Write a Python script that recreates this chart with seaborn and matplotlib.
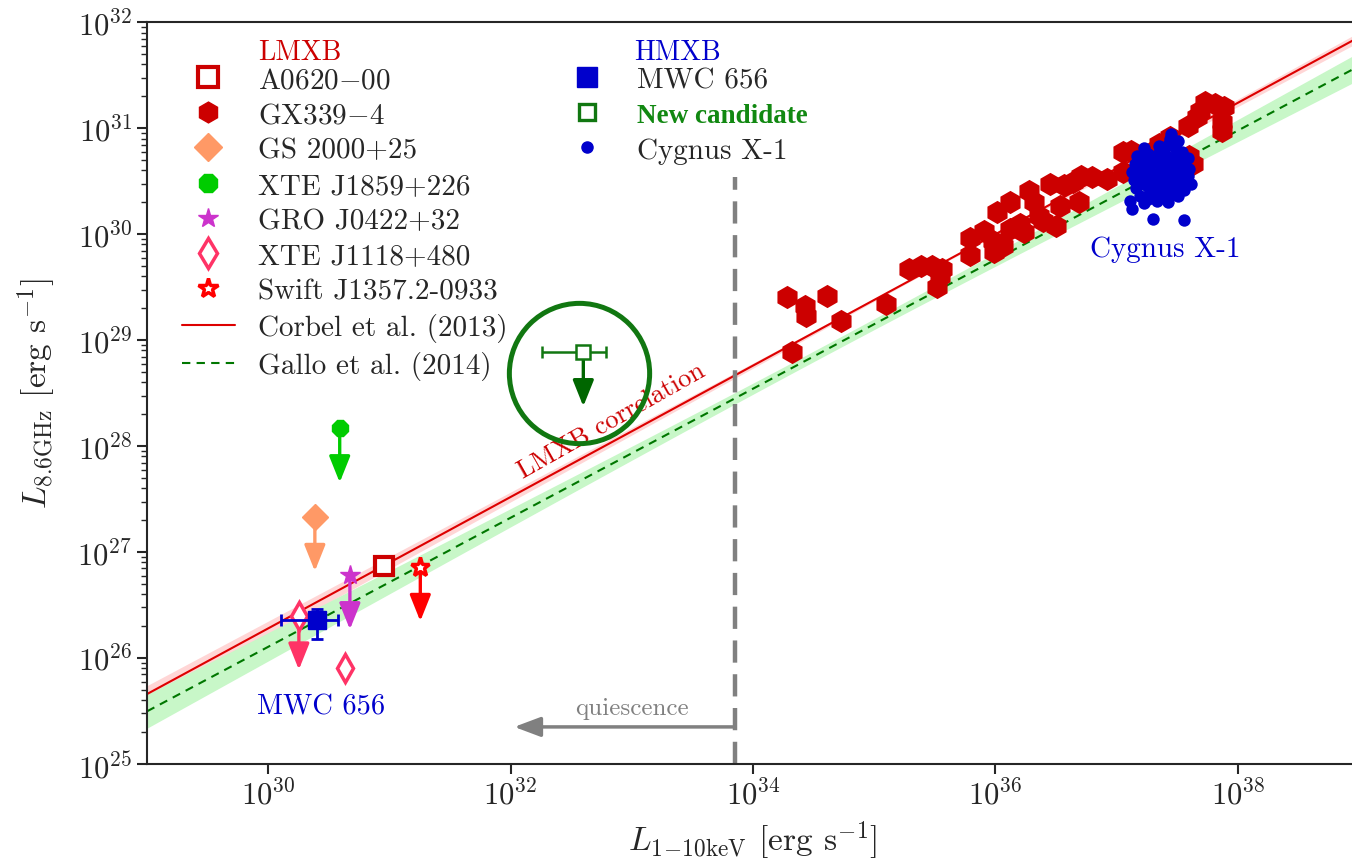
import numpy as np
import matplotlib
matplotlib.use("Agg")
import matplotlib.pyplot as plt
import seaborn as sns
import pandas as pd
from matplotlib.lines import Line2D
from matplotlib import ticker

# ---------------- data (log10 luminosities, erg/s) ----------------
gx339_logLx = [34.28, 34.43, 34.44, 34.61, 34.73, 34.32, 35.10, 35.29, 35.39, 35.48,
               35.54, 35.52, 35.56, 35.79, 35.79, 35.91, 35.98, 35.99, 36.06, 36.01,
               36.12, 36.12, 36.20, 36.24, 36.28, 36.32, 36.36, 36.39, 36.45, 36.50,
               36.53, 36.57, 36.64, 36.69, 36.71, 36.80, 36.92, 37.05, 37.12, 37.05,
               37.24, 37.35, 37.33, 37.44, 37.60, 37.63, 37.59, 37.66, 37.73, 37.81,
               37.89, 37.69, 37.87, 37.87]
gx339_logLr = [29.41, 29.32, 29.23, 29.42, 29.18, 28.89, 29.34, 29.67, 29.70, 29.70,
               29.61, 29.50, 29.67, 29.96, 29.80, 30.03, 29.94, 29.83, 29.89, 30.21,
               30.30, 30.05, 30.10, 30.02, 30.41, 30.30, 30.17, 30.12, 30.47, 30.08,
               30.27, 30.46, 30.49, 30.30, 30.55, 30.54, 30.52, 30.78, 30.79, 30.59,
               30.71, 30.85, 30.80, 30.92, 30.74, 30.66, 31.02, 31.11, 31.25, 31.23,
               31.20, 31.16, 31.06, 30.97]

cyg_logLx = [37.44, 37.51, 37.23, 37.35, 37.42, 37.49, 37.54, 37.17, 37.26, 37.33,
             37.40, 37.47, 37.53, 37.59, 37.15, 37.22, 37.29, 37.36, 37.42, 37.48,
             37.55, 37.60, 37.13, 37.21, 37.27, 37.34, 37.41, 37.47, 37.53, 37.59,
             37.14, 37.20, 37.28, 37.35, 37.40, 37.46, 37.54, 37.61, 37.16, 37.24,
             37.30, 37.37, 37.43, 37.50, 37.56, 37.19, 37.27, 37.34, 37.43, 37.51,
             37.23, 37.33, 37.42, 37.13, 37.30, 37.56, 37.11, 37.45, 37.38, 37.26]
cyg_logLr = [30.90, 30.88, 30.81, 30.83, 30.84, 30.80, 30.78, 30.74, 30.76, 30.75,
             30.76, 30.73, 30.74, 30.72, 30.66, 30.68, 30.67, 30.66, 30.69, 30.67,
             30.65, 30.62, 30.59, 30.60, 30.61, 30.58, 30.60, 30.59, 30.57, 30.55,
             30.51, 30.53, 30.52, 30.50, 30.53, 30.52, 30.49, 30.47, 30.44, 30.46,
             30.45, 30.43, 30.46, 30.44, 30.42, 30.36, 30.38, 30.35, 30.37, 30.36,
             30.29, 30.31, 30.30, 30.24, 30.14, 30.13, 30.31, 30.95, 30.40, 30.33]

a0620_logLx, a0620_logLr = 30.954, 26.866
gs2000_logLx, gs2000_logLr = 30.385, 27.33
xte1859_logLx, xte1859_logLr = 30.59, 28.167
gro0422_logLx, gro0422_logLr = 30.674, 26.78
xte1118_logLx = [30.253, 30.633]
xte1118_logLr = [26.40, 25.906]
xte1118_uplim = [True, False]
swift1357_logLx, swift1357_logLr = 31.255, 26.858

mwc656_logLx, mwc656_logLr = 30.402, 26.355
mwc656_logLx_range = [30.108, 30.575]
mwc656_logLr_range = [26.18, 26.465]

cand_logLx, cand_logLr = 32.60, 28.885
cand_logLx_range = [32.26, 32.79]

# correlations: log Lr = norm + slope * (log Lx - 36)
corbel_norm, corbel_slope = 30.00, 0.62
gallo_norm, gallo_slope = 29.76, 0.609

quiescence_logLx = 33.85
arrow_dex = 0.51

# ---------------- style ----------------
sns.set_theme(style="ticks")
plt.rcParams.update({
    "font.family": "serif",
    "font.serif": ["cmr10"],
    "mathtext.fontset": "cm",
    "axes.formatter.use_mathtext": True,
    "axes.linewidth": 1.5,
    "xtick.major.width": 1.5, "ytick.major.width": 1.5,
    "ytick.minor.width": 1.0,
    "xtick.major.size": 7, "ytick.major.size": 7, "ytick.minor.size": 4,
    "xtick.direction": "out", "ytick.direction": "out",
})

fig = plt.figure(figsize=(13.52, 8.62), dpi=100)
ax = fig.add_axes([147/1352, 1-765/862, 1212/1352, (765-23.3)/862])
ax.set_xscale("log")
ax.set_yscale("log")
ax.set_xlim(1e29, 1e39)
ax.set_ylim(1e25, 1e32)

# correlation lines and bands
lx = np.linspace(29, 39, 200)
corbel = corbel_norm + corbel_slope * (lx - 36)
gallo = gallo_norm + gallo_slope * (lx - 36)
corbel_w = 0.008 + 0.011 * np.abs(lx - 35.5)
gallo_w = np.sqrt(0.05**2 + (0.027 * (lx - 34.6))**2)
ax.fill_between(10**lx, 10**(corbel - corbel_w), 10**(corbel + corbel_w),
                color="#ffcccc", lw=0, zorder=1, alpha=0.8)
ax.fill_between(10**lx, 10**(gallo - gallo_w), 10**(gallo + gallo_w),
                color="#c8f7c8", lw=0, zorder=1)
line_df = pd.DataFrame({"Lx": 10**lx, "corbel": 10**corbel, "gallo": 10**gallo})
sns.lineplot(data=line_df, x="Lx", y="corbel", ax=ax, color="#dd0000", lw=1.5, zorder=2)
sns.lineplot(data=line_df, x="Lx", y="gallo", ax=ax, color="#007700", lw=1.5,
             dashes=False, zorder=2).lines[-1].set_dashes([4, 3])

# quiescence boundary
ax.plot([10**quiescence_logLx]*2, [1e25, 10**30.54], color="#808080", lw=3.2,
        dashes=[5, 2.6], zorder=2)
ax.annotate("", xy=(10**32.03, 10**25.35), xytext=(10**quiescence_logLx, 10**25.35),
            arrowprops=dict(arrowstyle="-|>,head_length=0.8,head_width=0.3",
                            color="#808080", lw=2.5, shrinkA=0, shrinkB=0,
                            mutation_scale=20))
ax.text(10**33.0, 10**25.53, "quiescence", color="#808080", fontsize=18,
        ha="center", va="center")

# GX 339-4 and Cyg X-1
gx_df = pd.DataFrame({"Lx": 10**np.array(gx339_logLx), "Lr": 10**np.array(gx339_logLr)})
cyg_df = pd.DataFrame({"Lx": 10**np.array(cyg_logLx), "Lr": 10**np.array(cyg_logLr)})
sns.scatterplot(data=gx_df, x="Lx", y="Lr", ax=ax, marker="h", s=280,
                color="#cc0000", linewidth=0, zorder=3)
sns.scatterplot(data=cyg_df, x="Lx", y="Lr", ax=ax, marker="o", s=80,
                color="#0000cc", linewidth=0, zorder=4)


def uplim(lx_, lr_, color, z=4):
    ax.annotate("", xy=(10**lx_, 10**(lr_ - arrow_dex)), xytext=(10**lx_, 10**lr_),
                arrowprops=dict(arrowstyle="-|>,head_length=0.8,head_width=0.32",
                                color=color, lw=2.4, shrinkA=0, shrinkB=0,
                                mutation_scale=20), zorder=z)


# individual LMXBs
ax.plot(10**a0620_logLx, 10**a0620_logLr, "s", ms=13, mfc="white", mec="#cc0000",
        mew=3, zorder=5)
uplim(gs2000_logLx, gs2000_logLr, "#ff9966")
ax.plot(10**gs2000_logLx, 10**gs2000_logLr, "D", ms=13, color="#ff9966", zorder=5)
uplim(xte1859_logLx, xte1859_logLr, "#00cc00")
ax.plot(10**xte1859_logLx, 10**xte1859_logLr, "8", ms=13, color="#00cc00", zorder=5)
uplim(gro0422_logLx, gro0422_logLr, "#cc33cc")
ax.plot(10**gro0422_logLx, 10**gro0422_logLr, "*", ms=15, color="#cc33cc", zorder=5)
for x_, y_, ul in zip(xte1118_logLx, xte1118_logLr, xte1118_uplim):
    if ul:
        uplim(x_, y_, "#ff3366")
    ax.plot(10**x_, 10**y_, "d", ms=14, mfc="white", mec="#ff3366", mew=2.5, zorder=5)
uplim(swift1357_logLx, swift1357_logLr, "#ff0000")
ax.plot(10**swift1357_logLx, 10**swift1357_logLr, "*", ms=14, mfc="white",
        mec="#ff0000", mew=2.5, zorder=5)

# MWC 656
ax.errorbar(10**mwc656_logLx, 10**mwc656_logLr,
            xerr=[[10**mwc656_logLx - 10**mwc656_logLx_range[0]],
                  [10**mwc656_logLx_range[1] - 10**mwc656_logLx]],
            yerr=[[10**mwc656_logLr - 10**mwc656_logLr_range[0]],
                  [10**mwc656_logLr_range[1] - 10**mwc656_logLr]],
            fmt="s", ms=13, color="#0000cc", ecolor="#0000cc", elinewidth=2,
            capsize=4, capthick=2, zorder=6)

# New candidate
uplim(cand_logLx, cand_logLr, "#006600", z=5)
ax.errorbar(10**cand_logLx, 10**cand_logLr,
            xerr=[[10**cand_logLx - 10**cand_logLx_range[0]],
                  [10**cand_logLx_range[1] - 10**cand_logLx]],
            fmt="s", ms=10, mfc="white", mec="#117711", mew=1.8,
            ecolor="#117711", elinewidth=1.8, capsize=4, capthick=2, zorder=6)
ax.plot(10**(cand_logLx - 0.036), 10**(cand_logLr - 0.195), "o", ms=101,
        mfc="none", mec="#117711", mew=3.6, zorder=6)

# labels on plot
ax.text(10**30.44, 10**25.54, "MWC 656", color="#0000cc", fontsize=20.5,
        ha="center", va="center")
ax.text(10**37.40, 10**29.86, "Cygnus X-1", color="#0000cc", fontsize=21,
        ha="center", va="center")
p1 = ax.transData.transform((10**32.0, 10**(corbel_norm + corbel_slope*(32.0-36))))
p2 = ax.transData.transform((10**34.0, 10**(corbel_norm + corbel_slope*(34.0-36))))
ang = np.degrees(np.arctan2(p2[1]-p1[1], p2[0]-p1[0]))
ax.text(10**32.83, 10**28.25, "LMXB correlation", color="#cc0000", fontsize=19,
        rotation=ang + 1.0, ha="center", va="center", rotation_mode="anchor")

# axes ticks
ax.xaxis.set_major_locator(ticker.FixedLocator([1e30, 1e32, 1e34, 1e36, 1e38]))
ax.xaxis.set_minor_locator(ticker.NullLocator())
ax.xaxis.set_major_formatter(ticker.LogFormatterSciNotation())
ax.yaxis.set_major_locator(ticker.LogLocator(base=10, numticks=20))
ax.yaxis.set_minor_locator(ticker.LogLocator(base=10, subs=np.arange(2, 10), numticks=20))
ax.yaxis.set_minor_formatter(ticker.NullFormatter())
ax.tick_params(labelsize=22)
for s in ["top", "left", "bottom", "right"]:
    ax.spines[s].set_visible(True)
ax.set_xlabel(r"$L_{1\!-\!10\mathrm{keV}}$ [erg s$^{-1}$]", fontsize=24, labelpad=6)
ax.set_ylabel(r"$L_{8.6\mathrm{GHz}}$ [erg s$^{-1}$]", fontsize=24, labelpad=14)

# legends
lmxb_handles = [
    Line2D([], [], ls="none", marker="s", ms=14, mfc="white", mec="#cc0000", mew=3),
    Line2D([], [], ls="none", marker="h", ms=15, color="#cc0000"),
    Line2D([], [], ls="none", marker="D", ms=14, color="#ff9966"),
    Line2D([], [], ls="none", marker="8", ms=14, color="#00cc00"),
    Line2D([], [], ls="none", marker="*", ms=15, color="#cc33cc"),
    Line2D([], [], ls="none", marker="d", ms=15, mfc="white", mec="#ff3366", mew=2.5),
    Line2D([], [], ls="none", marker="*", ms=15, mfc="white", mec="#ff0000", mew=2.5),
    Line2D([], [], color="#dd0000", lw=1.5),
    Line2D([], [], color="#007700", lw=1.5, dashes=[4, 3]),
]
lmxb_labels = [r"A0620$-$00", r"GX339$-$4", "GS 2000+25", "XTE J1859+226",
               "GRO J0422+32", "XTE J1118+480", "Swift J1357.2-0933",
               "Corbel et al. (2013)", "Gallo et al. (2014)"]
leg_kw = dict(loc="upper left", frameon=False, fontsize=21, borderpad=0,
              borderaxespad=0, labelspacing=0.3, handlelength=1.8, handletextpad=0.8)
leg1 = ax.legend(lmxb_handles, lmxb_labels, bbox_to_anchor=(0.029, 0.94), **leg_kw)
ax.add_artist(leg1)

hmxb_handles = [
    Line2D([], [], ls="none", marker="s", ms=15, color="#0000cc"),
    Line2D([], [], ls="none", marker="s", ms=11, mfc="white", mec="#117711", mew=2.4),
    Line2D([], [], ls="none", marker="o", ms=8, color="#0000cc"),
]
hmxb_labels = ["MWC 656", "New candidate", "Cygnus X-1"]
leg2 = ax.legend(hmxb_handles, hmxb_labels, bbox_to_anchor=(0.3416, 0.94), **leg_kw)
t = leg2.get_texts()[1]
t.set_color("#118811")
t.set_fontfamily("Liberation Serif")
t.set_fontweight("bold")
t.set_fontsize(19.5)

ax.text(0.0916, 0.96, "LMXB", color="#cc0000", fontsize=20, transform=ax.transAxes,
        ha="left", va="center")
ax.text(0.4018, 0.96, "HMXB", color="#0000cc", fontsize=20, transform=ax.transAxes,
        ha="left", va="center")

fig.savefig("out.png", dpi=100)
